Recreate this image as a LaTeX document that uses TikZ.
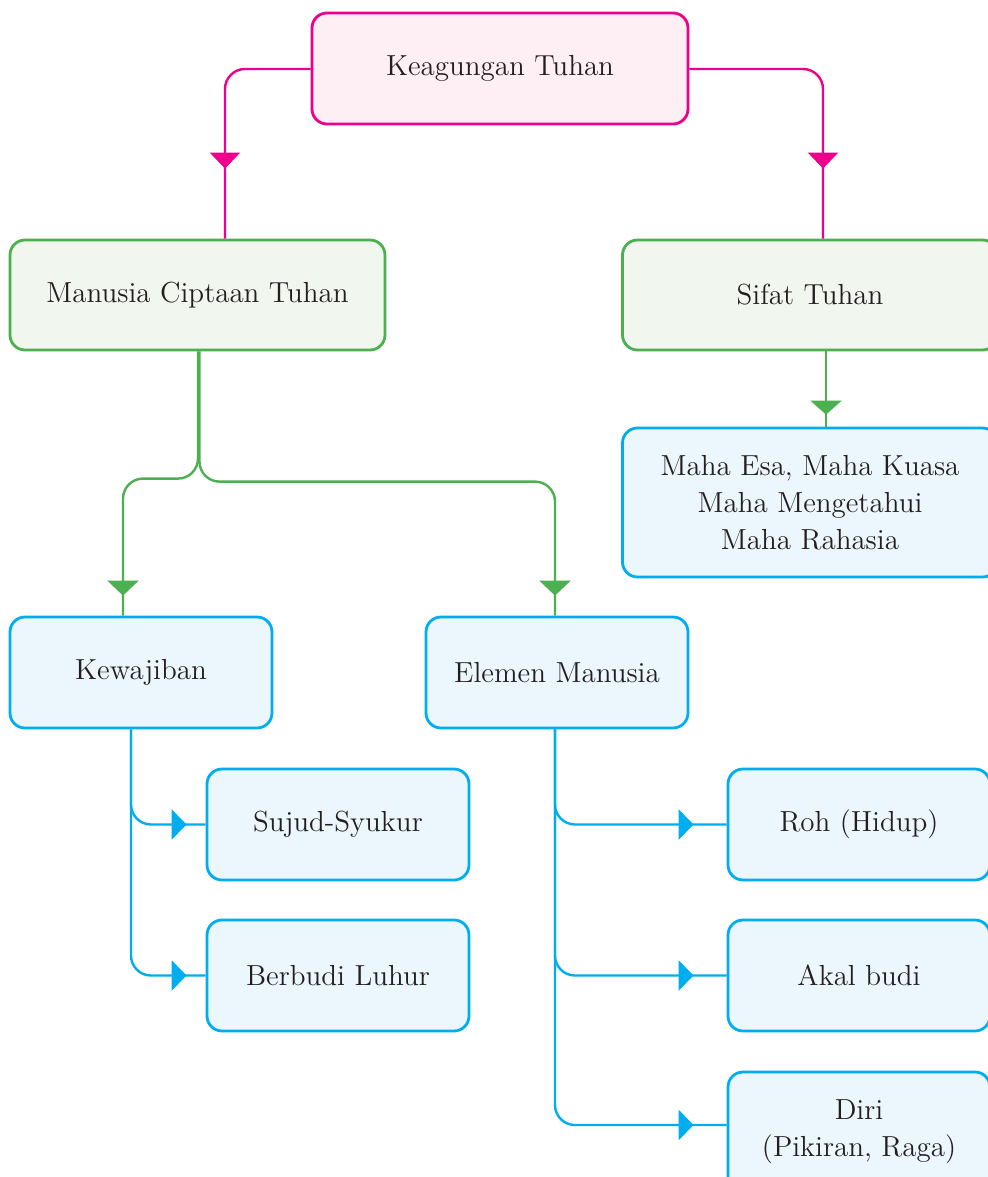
\documentclass[tikz,border=0pt]{standalone}
\usetikzlibrary{arrows.meta,decorations.markings,calc}
\definecolor{mag}{HTML}{EC008C}
\definecolor{magfill}{HTML}{FDEFF4}
\definecolor{grn}{HTML}{4CAF50}
\definecolor{grnfill}{HTML}{F1F6EE}
\definecolor{blu}{HTML}{00AEEF}
\definecolor{blufill}{HTML}{EBF6FD}
\definecolor{txt}{HTML}{231F20}
\tikzset{
  box/.style={draw, rounded corners=7.5pt, line width=1.4pt, align=center,
    text=txt, font=\fontsize{14.5}{18.5}\selectfont, inner sep=0pt},
  magbox/.style={box, draw=mag, fill=magfill},
  grnbox/.style={box, draw=grn, fill=grnfill},
  blubox/.style={box, draw=blu, fill=blufill},
  conn/.style={line width=1.2pt, rounded corners=10pt},
  midarrow/.style 2 args={postaction={decorate}, decoration={markings,
    mark=at position #1 with {\arrow{#2}}}},
}
\begin{document}
\begin{tikzpicture}[x=0.5pt,y=-0.5pt]
\clip (0,0) rectangle (988,1177);
\fill[white] (0,0) rectangle (988,1177);

\node[magbox, minimum width=188pt, minimum height=55.5pt] (top) at (500,68.5) {Keagungan Tuhan};
\node[grnbox, minimum width=187.5pt, minimum height=55pt] (man) at (197.5,295) {Manusia Ciptaan Tuhan};
\node[grnbox, minimum width=187.5pt, minimum height=55pt] (sif) at (810,295) {Sifat Tuhan};
\node[blubox, minimum width=187.5pt, minimum height=74.5pt] (maha) at (810,502.5) {Maha Esa, Maha Kuasa\\Maha Mengetahui\\Maha Rahasia};
\node[blubox, minimum width=131pt, minimum height=55.5pt] (kew) at (141,672.5) {Kewajiban};
\node[blubox, minimum width=131pt, minimum height=55.5pt] (ele) at (557,672.5) {Elemen Manusia};
\node[blubox, minimum width=131pt, minimum height=55.5pt] (suj) at (338,824.5) {Sujud-Syukur};
\node[blubox, minimum width=131pt, minimum height=55.5pt] (ber) at (338,975.5) {Berbudi Luhur};
\node[blubox, minimum width=131pt, minimum height=55.5pt] (roh) at (859,824.5) {Roh (Hidup)};
\node[blubox, minimum width=131pt, minimum height=55.5pt] (aka) at (859,975.5) {Akal budi};
\node[blubox, minimum width=131pt, minimum height=60pt] (dir) at (859,1132) {Diri\\(Pikiran, Raga)};

% magenta connectors
\draw[conn, draw=mag, midarrow={-35pt}{Triangle[width=15pt,length=8pt,fill=mag]}]
  ([yshift=-0.25pt]top.west) -| ([xshift=13.75pt]man.north);
\draw[conn, draw=mag, midarrow={-35pt}{Triangle[width=15pt,length=8pt,fill=mag]}]
  ([yshift=-0.25pt]top.east) -| ([xshift=6.5pt]sif.north);

% green connectors
\draw[conn, draw=grn, midarrow={-10pt}{Triangle[width=15.5pt,length=7.5pt,fill=grn]}]
  ([xshift=0.25pt]man.south) |- ($(kew.north)+(-18,-137)$) -- ([xshift=-9pt]kew.north);
\draw[conn, draw=grn, midarrow={-10pt}{Triangle[width=15.5pt,length=7.5pt,fill=grn]}]
  ([xshift=1pt]man.south) |- ($(ele.north)+(-2,-134)$) -- ([xshift=-1pt]ele.north);
\draw[conn, draw=grn, midarrow={-6pt}{Triangle[width=15.5pt,length=7pt,fill=grn]}]
  ([xshift=8pt]sif.south) -- ([xshift=8pt]maha.north);

% blue connectors
\draw[conn, draw=blu, midarrow={-9.5pt}{Triangle[width=15pt,length=7.5pt,fill=blu]}]
  ([xshift=-5pt]kew.south) |- (suj.west);
\draw[conn, draw=blu, midarrow={-9.5pt}{Triangle[width=15pt,length=7.5pt,fill=blu]}]
  ([xshift=-5pt]kew.south) |- (ber.west);
\draw[conn, draw=blu, midarrow={-16.5pt}{Triangle[width=15pt,length=7.5pt,fill=blu]}]
  ([xshift=-1pt]ele.south) |- (roh.west);
\draw[conn, draw=blu, midarrow={-16.5pt}{Triangle[width=15pt,length=7.5pt,fill=blu]}]
  ([xshift=-1pt]ele.south) |- (aka.west);
\draw[conn, draw=blu, midarrow={-16.5pt}{Triangle[width=15pt,length=7.5pt,fill=blu]}]
  ([xshift=-1pt]ele.south) |- ([yshift=3.5pt]dir.west);
\end{tikzpicture}
\end{document}
